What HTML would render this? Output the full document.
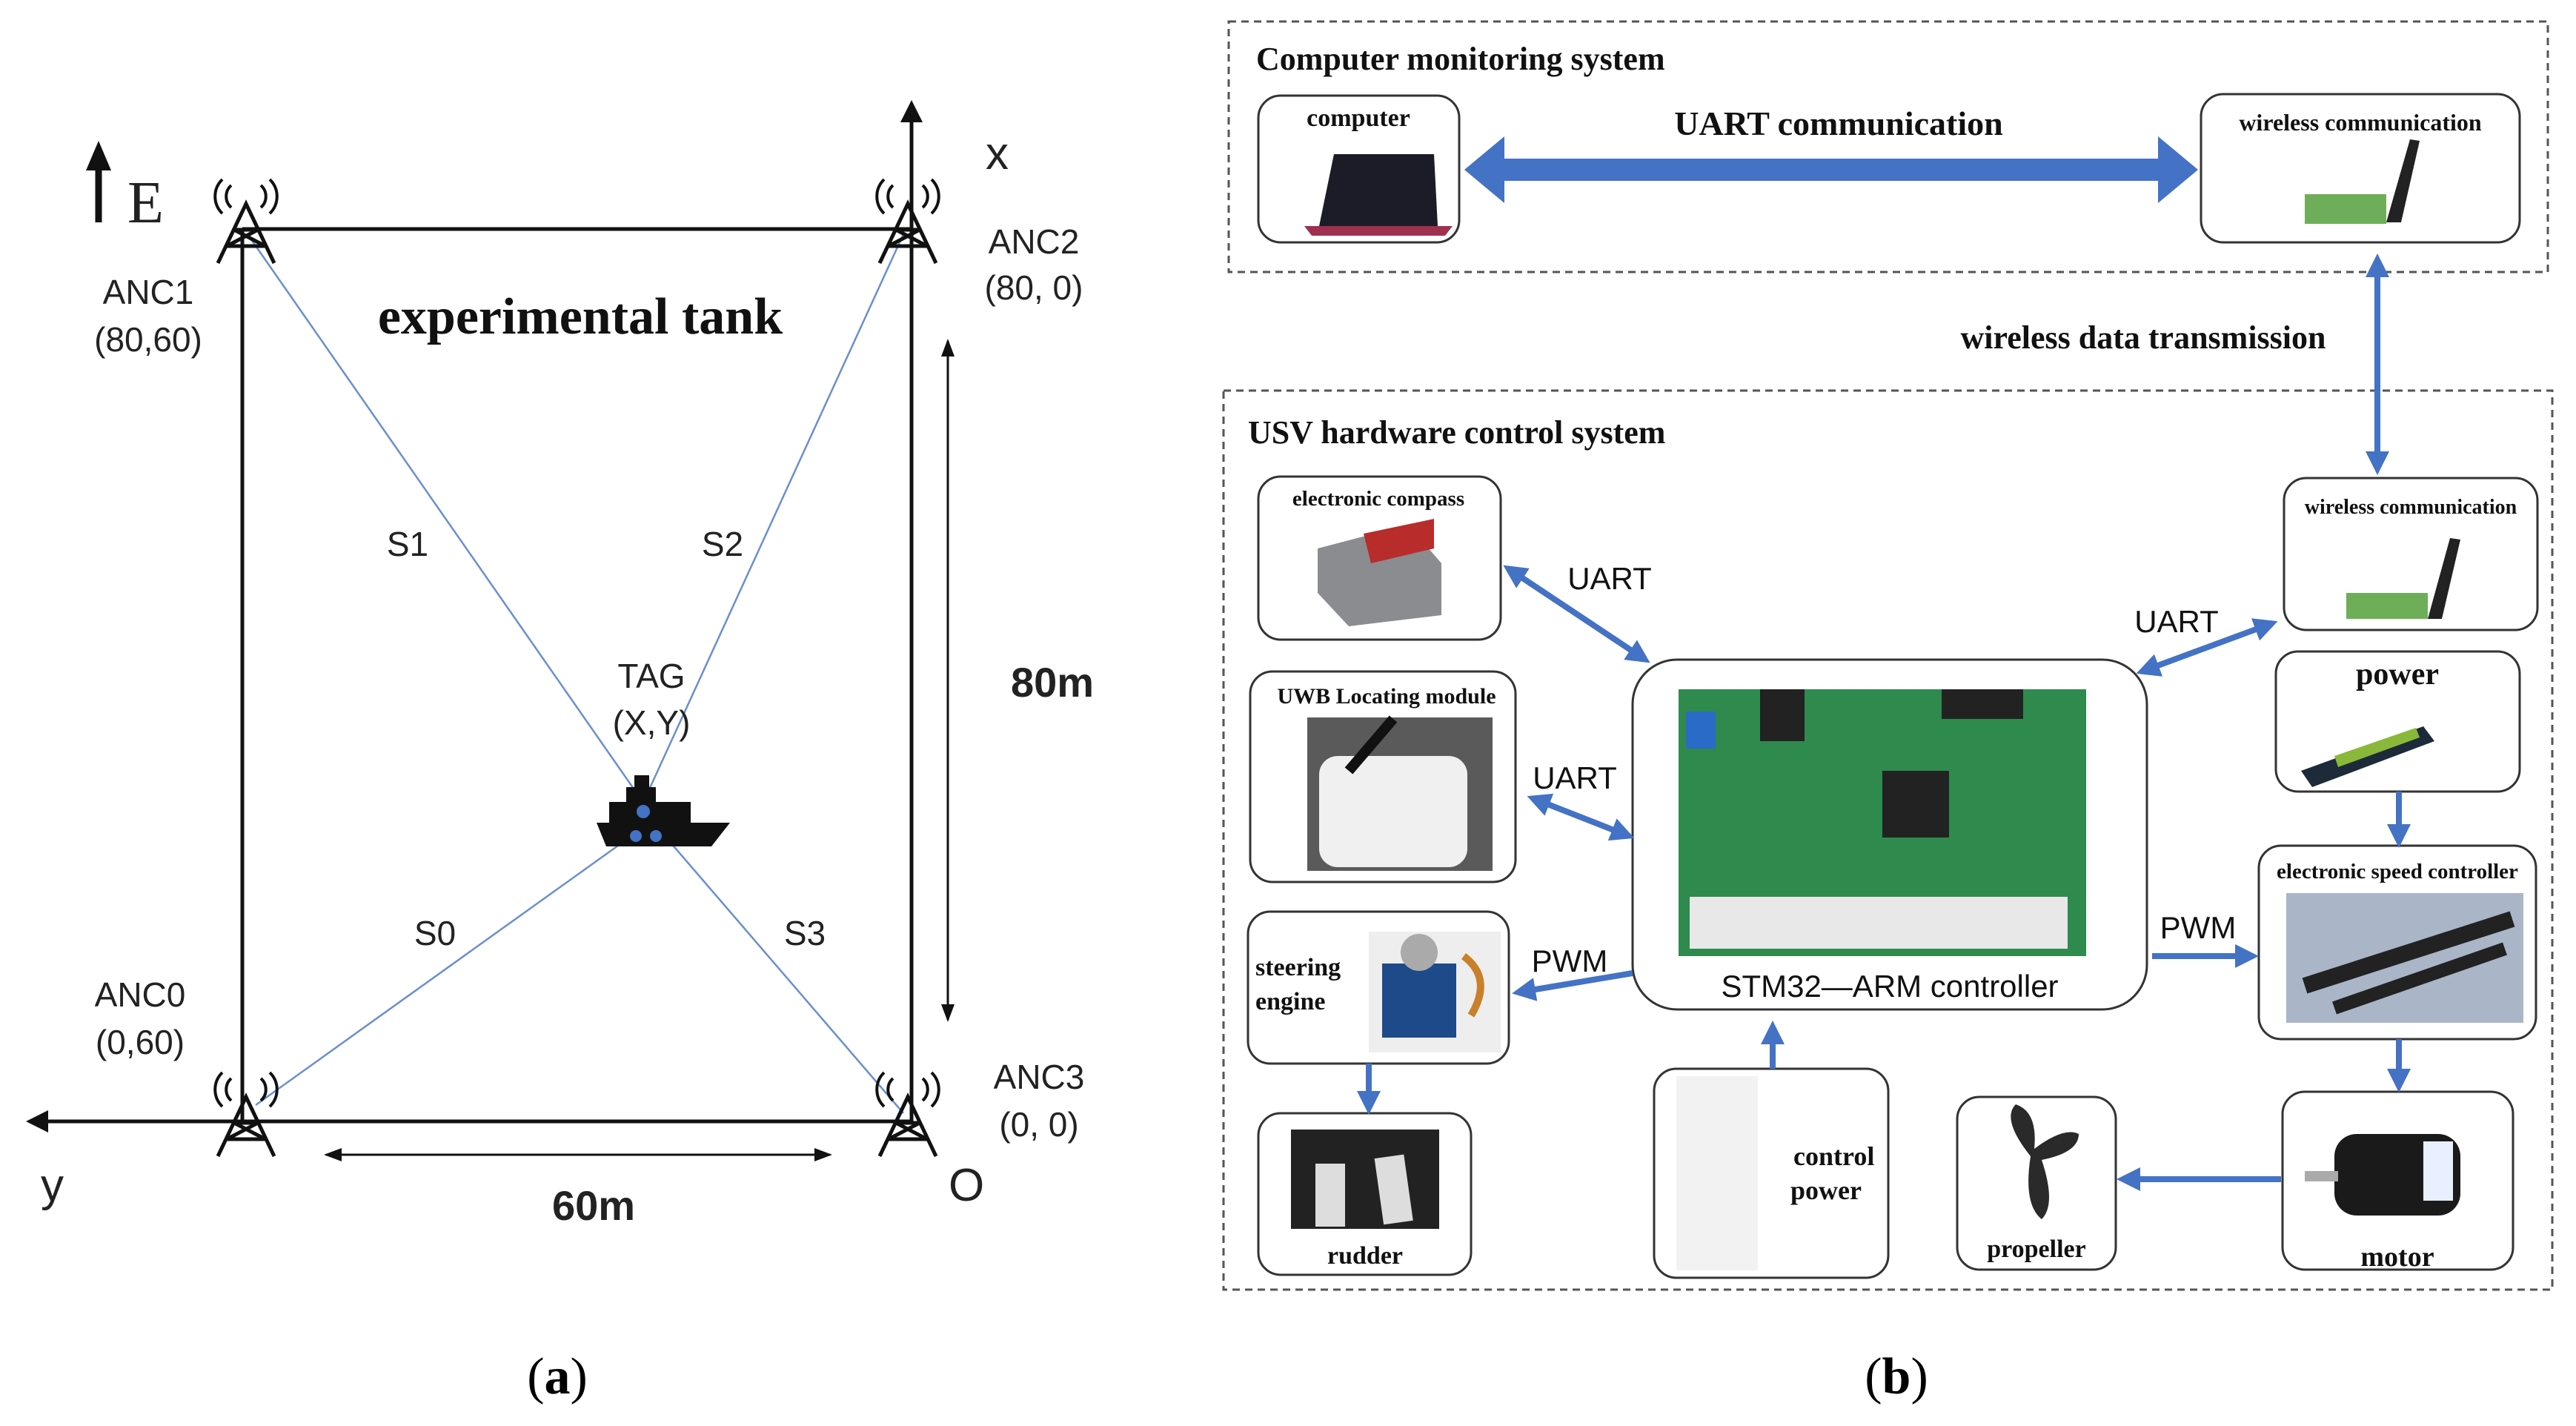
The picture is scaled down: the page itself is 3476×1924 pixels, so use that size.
<!DOCTYPE html>
<html><head><meta charset="utf-8"><style>body{margin:0;background:#fff}svg{display:block}</style></head><body>
<svg width="3476" height="1924" viewBox="0 0 3476 1924" xmlns="http://www.w3.org/2000/svg" font-family="Liberation Sans, sans-serif">
<defs>
<marker id="ah" markerWidth="6" markerHeight="6" refX="5" refY="3" orient="auto" markerUnits="strokeWidth"><path d="M0,0 L6,3 L0,6 z" fill="#111"/></marker>
<marker id="ah2" markerWidth="8" markerHeight="6" refX="7" refY="3" orient="auto" markerUnits="strokeWidth"><path d="M0,0 L8,3 L0,6 z" fill="#111"/></marker>
<marker id="ah2s" markerWidth="8" markerHeight="6" refX="1" refY="3" orient="auto" markerUnits="strokeWidth"><path d="M8,0 L0,3 L8,6 z" fill="#111"/></marker>
<marker id="bh" markerWidth="4" markerHeight="4" refX="3" refY="2" orient="auto" markerUnits="strokeWidth"><path d="M0,0 L4,2 L0,4 z" fill="#4472c4"/></marker>
<marker id="bhs" markerWidth="4" markerHeight="4" refX="1" refY="2" orient="auto" markerUnits="strokeWidth"><path d="M4,0 L0,2 L4,4 z" fill="#4472c4"/></marker>
</defs>
<!-- Panel (a) -->
<g stroke="#111" stroke-width="5" fill="none">
<line x1="327" y1="309" x2="1230" y2="309"/>
<line x1="327" y1="309" x2="327" y2="1513"/>
<line x1="1230" y1="1513" x2="40" y2="1513" marker-end="url(#ah)"/>
<line x1="1230" y1="1513" x2="1230" y2="140" marker-end="url(#ah)"/>
<line x1="133" y1="300" x2="133" y2="200" stroke-width="9"/>
</g>
<path d="M133,190 L116,230 L150,230 z" fill="#111"/>
<g stroke="#111" stroke-width="3" fill="none">
<line x1="1279" y1="460" x2="1279" y2="1376" marker-start="url(#ah2s)" marker-end="url(#ah2)"/>
<line x1="440" y1="1558" x2="1120" y2="1558" marker-start="url(#ah2s)" marker-end="url(#ah2)"/>
</g>
<g stroke="#6a8fd0" stroke-width="2.5">
<line x1="334" y1="316" x2="880" y2="1100"/>
<line x1="1219" y1="316" x2="860" y2="1100"/>
<line x1="345" y1="1491" x2="880" y2="1108"/>
<line x1="1219" y1="1502" x2="880" y2="1108"/>
</g>
<g stroke="#111" stroke-width="5" fill="none">
<g transform="translate(332,310)"><path d="M-38,45 L0,-35 L38,45 M-26,22 L26,22 M-16,0 L16,0 M-26,22 L16,0 M26,22 L-16,0"/><path d="M-20,-60 a20,20 0 0 0 0,30 M20,-60 a20,20 0 0 1 0,30 M-32,-68 a32,32 0 0 0 0,46 M32,-68 a32,32 0 0 1 0,46" stroke-width="4"/></g>
<g transform="translate(1225,310)"><path d="M-38,45 L0,-35 L38,45 M-26,22 L26,22 M-16,0 L16,0 M-26,22 L16,0 M26,22 L-16,0"/><path d="M-20,-60 a20,20 0 0 0 0,30 M20,-60 a20,20 0 0 1 0,30 M-32,-68 a32,32 0 0 0 0,46 M32,-68 a32,32 0 0 1 0,46" stroke-width="4"/></g>
<g transform="translate(332,1515)"><path d="M-38,45 L0,-35 L38,45 M-26,22 L26,22 M-16,0 L16,0 M-26,22 L16,0 M26,22 L-16,0"/><path d="M-20,-60 a20,20 0 0 0 0,30 M20,-60 a20,20 0 0 1 0,30 M-32,-68 a32,32 0 0 0 0,46 M32,-68 a32,32 0 0 1 0,46" stroke-width="4"/></g>
<g transform="translate(1225,1515)"><path d="M-38,45 L0,-35 L38,45 M-26,22 L26,22 M-16,0 L16,0 M-26,22 L16,0 M26,22 L-16,0"/><path d="M-20,-60 a20,20 0 0 0 0,30 M20,-60 a20,20 0 0 1 0,30 M-32,-68 a32,32 0 0 0 0,46 M32,-68 a32,32 0 0 1 0,46" stroke-width="4"/></g>
</g>
<g fill="#111"><path d="M805,1110 L985,1110 L960,1142 L818,1142 z"/><rect x="822" y="1082" width="110" height="30"/><rect x="845" y="1062" width="40" height="22"/><rect x="856" y="1046" width="20" height="18"/></g>
<g fill="#4472c4"><circle cx="868" cy="1095" r="9"/><circle cx="858" cy="1128" r="8"/><circle cx="885" cy="1128" r="8"/></g>
<g font-size="46" fill="#222">
<text x="1330" y="228" font-size="62">x</text>
<text x="55" y="1620" font-size="62">y</text>
<text x="1280" y="1620" font-size="62">O</text>
<text x="172" y="300" font-size="80" font-family="Liberation Serif, serif">E</text>
<text x="200" y="410" text-anchor="middle">ANC1</text><text x="200" y="474" text-anchor="middle">(80,60)</text>
<text x="1395" y="342" text-anchor="middle">ANC2</text><text x="1395" y="404" text-anchor="middle">(80, 0)</text>
<text x="189" y="1358" text-anchor="middle">ANC0</text><text x="189" y="1422" text-anchor="middle">(0,60)</text>
<text x="1402" y="1469" text-anchor="middle">ANC3</text><text x="1402" y="1533" text-anchor="middle">(0, 0)</text>
<text x="550" y="750" text-anchor="middle">S1</text><text x="975" y="750" text-anchor="middle">S2</text>
<text x="587" y="1275" text-anchor="middle">S0</text><text x="1086" y="1275" text-anchor="middle">S3</text>
<text x="879" y="928" text-anchor="middle">TAG</text><text x="879" y="991" text-anchor="middle">(X,Y)</text>
<text x="1420" y="940" text-anchor="middle" font-size="56" font-weight="bold">80m</text>
<text x="801" y="1646" text-anchor="middle" font-size="56" font-weight="bold">60m</text>
<text x="783" y="450" text-anchor="middle" font-size="70" font-weight="bold" font-family="Liberation Serif, serif" fill="#111">experimental tank</text>
</g>
<text x="752" y="1880" text-anchor="middle" font-size="70" font-family="Liberation Serif, serif">(<tspan font-weight="bold">a</tspan>)</text>
<text x="2559" y="1880" text-anchor="middle" font-size="70" font-family="Liberation Serif, serif">(<tspan font-weight="bold">b</tspan>)</text>

<!-- Panel (b) -->
<g fill="none" stroke="#555" stroke-width="3" stroke-dasharray="10,7">
<rect x="1658" y="29" width="1780" height="338"/>
<rect x="1651" y="527" width="1793" height="1213"/>
</g>
<g fill="#fff" stroke="#333" stroke-width="3">
<rect x="1698" y="129" width="271" height="198" rx="30"/>
<rect x="2970" y="127" width="430" height="200" rx="30"/>
<rect x="1698" y="643" width="327" height="220" rx="30"/>
<rect x="1687" y="906" width="358" height="284" rx="30"/>
<rect x="1684" y="1230" width="352" height="205" rx="30"/>
<rect x="1698" y="1502" width="287" height="218" rx="30"/>
<rect x="2203" y="890" width="694" height="472" rx="60"/>
<rect x="2232" y="1442" width="316" height="282" rx="30"/>
<rect x="2641" y="1480" width="214" height="233" rx="30"/>
<rect x="3080" y="1473" width="311" height="240" rx="30"/>
<rect x="3048" y="1141" width="374" height="261" rx="30"/>
<rect x="3071" y="879" width="329" height="189" rx="30"/>
<rect x="3082" y="645" width="342" height="205" rx="30"/>
</g>
<path d="M1780,305 L1940,305 L1935,208 L1800,208 z" fill="#1c1c28"/><path d="M1760,305 L1960,305 L1950,318 L1770,318 z" fill="#a03050"/>
<rect x="3110" y="262" width="110" height="40" fill="#6fae58"/><path d="M3220,300 L3240,300 L3265,190 L3252,188 z" fill="#222"/>
<rect x="3166" y="800" width="110" height="35" fill="#6fae58"/><path d="M3276,835 L3295,835 L3320,728 L3306,726 z" fill="#222"/>
<path d="M1778,740 L1900,708 L1945,760 L1945,830 L1820,845 L1778,800 z" fill="#8a8c90"/><path d="M1840,720 L1935,700 L1935,740 L1850,760 z" fill="#b82c2c"/>
<rect x="1764" y="968" width="250" height="207" fill="#5a5a5a"/><rect x="1780" y="1020" width="200" height="150" rx="25" fill="#f0f0f0"/><path d="M1820,1040 L1880,970" stroke="#111" stroke-width="14"/>
<rect x="1847" y="1257" width="178" height="163" fill="#eee"/><rect x="1865" y="1300" width="100" height="100" fill="#1e4a8a"/><circle cx="1915" cy="1285" r="25" fill="#aaa"/><path d="M1975,1290 q40,30 10,80" stroke="#c8802a" stroke-width="10" fill="none"/>
<rect x="1742" y="1524" width="200" height="134" fill="#222"/><rect x="1775" y="1570" width="40" height="85" fill="#ddd"/><rect x="1860" y="1560" width="40" height="90" fill="#ddd" transform="rotate(-8 1880 1600)"/>
<rect x="2265" y="930" width="550" height="360" fill="#2f8a4e"/><rect x="2540" y="1040" width="90" height="90" fill="#222"/><rect x="2280" y="1210" width="510" height="70" fill="#e8e8e8"/><rect x="2275" y="960" width="40" height="50" fill="#2a6bc8"/><rect x="2620" y="930" width="110" height="40" fill="#222"/><rect x="2375" y="930" width="60" height="70" fill="#222"/>
<rect x="2262" y="1452" width="110" height="262" fill="#f2f2f2"/>
<path d="M2740,1560 q-40,-50 -20,-70 q30,10 25,60 q40,-30 60,-20 q0,25 -50,35 q20,60 0,80 q-25,-20 -15,-85" fill="#2a2a2a"/>
<rect x="3150" y="1530" width="170" height="110" rx="30" fill="#1a1a1a"/><rect x="3110" y="1580" width="45" height="14" fill="#aaa"/><rect x="3270" y="1540" width="40" height="80" fill="#e8f0ff"/>
<rect x="3085" y="1205" width="320" height="175" fill="#aab6c8"/><path d="M3110,1330 L3390,1240" stroke="#222" stroke-width="22"/><path d="M3150,1360 L3380,1280" stroke="#222" stroke-width="18"/>
<path d="M3105,1040 L3270,980 L3285,1000 L3120,1062 z" fill="#1d2a3a"/><path d="M3150,1020 L3260,982 L3265,995 L3155,1035 z" fill="#8ab83a"/>
<g stroke="#4472c4" fill="none">
<line x1="2020" y1="229" x2="2925" y2="229" stroke-width="30"/>
<path d="M1976,229 L2030,184 L2030,274 z M2966,229 L2912,184 L2912,274 z" fill="#4472c4" stroke="none"/>
<g stroke-width="8">
<line x1="3208" y1="350" x2="3208" y2="633" marker-start="url(#bhs)" marker-end="url(#bh)"/>
<line x1="2035" y1="767" x2="2220" y2="890" marker-start="url(#bhs)" marker-end="url(#bh)"/>
<line x1="2068" y1="1077" x2="2198" y2="1128" marker-start="url(#bhs)" marker-end="url(#bh)"/>
<line x1="2890" y1="906" x2="3066" y2="841" marker-start="url(#bhs)" marker-end="url(#bh)"/>
<line x1="2203" y1="1313" x2="2048" y2="1339" marker-end="url(#bh)"/>
<line x1="2904" y1="1290" x2="3040" y2="1290" marker-end="url(#bh)"/>
<line x1="3237" y1="1068" x2="3237" y2="1136" marker-end="url(#bh)"/>
<line x1="3237" y1="1402" x2="3237" y2="1466" marker-end="url(#bh)"/>
<line x1="3078" y1="1591" x2="2864" y2="1591" marker-end="url(#bh)"/>
<line x1="2392" y1="1442" x2="2392" y2="1385" marker-end="url(#bh)"/>
<line x1="1847" y1="1435" x2="1847" y2="1496" marker-end="url(#bh)"/>
</g></g>
<g font-family="Liberation Serif, serif" font-weight="bold" fill="#111">
<text x="1695" y="94" font-size="44">Computer monitoring system</text>
<text x="2481" y="182" font-size="46" text-anchor="middle">UART communication</text>
<text x="2892" y="470" font-size="44" text-anchor="middle">wireless data transmission</text>
<text x="1684" y="598" font-size="44">USV hardware control system</text>
<text x="1833" y="170" font-size="34" text-anchor="middle">computer</text>
<text x="3185" y="176" font-size="32" text-anchor="middle">wireless communication</text>
<text x="3253" y="693" font-size="28" text-anchor="middle">wireless communication</text>
<text x="1860" y="682" font-size="29" text-anchor="middle">electronic compass</text>
<text x="1871" y="949" font-size="30" text-anchor="middle">UWB Locating module</text>
<text x="1694" y="1316" font-size="34">steering</text><text x="1694" y="1362" font-size="34">engine</text>
<text x="1842" y="1705" font-size="34" text-anchor="middle">rudder</text>
<text x="2420" y="1572" font-size="36">control</text><text x="2416" y="1618" font-size="36">power</text>
<text x="2748" y="1696" font-size="34" text-anchor="middle">propeller</text>
<text x="3235" y="1708" font-size="38" text-anchor="middle">motor</text>
<text x="3235" y="923" font-size="42" text-anchor="middle">power</text>
<text x="3235" y="1185" font-size="29" text-anchor="middle">electronic speed controller</text>
</g>
<g font-size="42" fill="#111">
<text x="2550" y="1345" text-anchor="middle">STM32—ARM controller</text>
<text x="2172" y="795" text-anchor="middle">UART</text>
<text x="2125" y="1064" text-anchor="middle">UART</text>
<text x="2937" y="853" text-anchor="middle">UART</text>
<text x="2118" y="1311" text-anchor="middle">PWM</text>
<text x="2966" y="1266" text-anchor="middle">PWM</text>
</g>
</svg>
</body></html>
